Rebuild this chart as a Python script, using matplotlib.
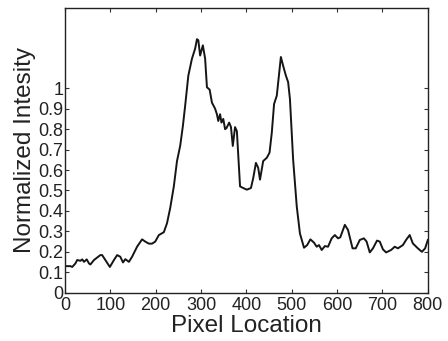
import matplotlib
matplotlib.use('Agg')
import matplotlib.pyplot as plt

plt.rcParams['font.family'] = ['Liberation Sans', 'DejaVu Sans']

# intensity profile
pixel = [0, 12, 16, 23, 27, 34, 38, 42, 48, 53, 56, 64, 78, 82, 89, 99, 108, 115,
         122, 128, 133, 141, 148, 159, 170, 177, 185, 192, 199, 207, 218, 225, 232,
         240, 247, 254, 260, 265, 272, 280, 287, 291, 294, 298, 304, 309, 313, 319,
         324, 331, 335, 338, 342, 345, 349, 353, 356, 362, 366, 370, 375, 379, 386,
         393, 401, 410, 415, 421, 426, 430, 437, 445, 451, 456, 461, 467, 476, 481,
         487, 492, 496, 503, 511, 518, 527, 534, 541, 549, 555, 560, 566, 573, 580,
         588, 595, 602, 607, 617, 624, 634, 641, 650, 659, 665, 672, 679, 688, 694,
         701, 708, 719, 727, 734, 745, 752, 760, 767, 778, 787, 794, 800]
intensity = [0.13, 0.13, 0.126, 0.143, 0.16, 0.156, 0.163, 0.151, 0.163, 0.143, 0.138,
             0.16, 0.184, 0.184, 0.16, 0.126, 0.16, 0.184, 0.176, 0.148, 0.164, 0.151,
             0.176, 0.225, 0.261, 0.25, 0.24, 0.24, 0.25, 0.282, 0.296, 0.34, 0.414,
             0.52, 0.644, 0.718, 0.816, 0.915, 1.062, 1.145, 1.194, 1.24, 1.235, 1.16,
             1.21, 1.145, 1.005, 0.993, 0.93, 0.90, 0.873, 0.84, 0.873, 0.832, 0.85,
             0.80, 0.805, 0.832, 0.81, 0.718, 0.81, 0.79, 0.52, 0.512, 0.504, 0.512,
             0.56, 0.635, 0.611, 0.553, 0.644, 0.66, 0.685, 0.783, 0.923, 0.964, 1.153,
             1.11, 1.062, 1.03, 0.947, 0.652, 0.422, 0.29, 0.22, 0.233, 0.261, 0.245,
             0.225, 0.233, 0.209, 0.228, 0.225, 0.266, 0.282, 0.266, 0.271, 0.332,
             0.307, 0.217, 0.217, 0.258, 0.266, 0.25, 0.197, 0.217, 0.255, 0.25, 0.212,
             0.197, 0.209, 0.225, 0.217, 0.233, 0.258, 0.282, 0.241, 0.217, 0.2, 0.217,
             0.258]

xticks = [0, 100, 200, 300, 400, 500, 600, 700, 800]
yticks = [0, 0.1, 0.2, 0.3, 0.4, 0.5, 0.6, 0.7, 0.8, 0.9, 1]
ytick_labels = ['0', '0.1', '0.2', '0.3', '0.4', '0.5', '0.6', '0.7', '0.8', '0.9', '1']

fig = plt.figure(figsize=(4.48, 3.41), dpi=100)
ax = fig.add_axes([0.145, 0.1416, 0.81, 0.8364])

ax.plot(pixel, intensity, color='#151515', lw=1.4)

ax.set_xlim(0, 800)
ax.set_ylim(0, 1.395)
ax.set_xticks(xticks)
ax.set_yticks(yticks)
ax.set_yticklabels(ytick_labels)
ax.tick_params(direction='in', length=3, width=0.8, top=True, right=True,
               labelsize=13, colors='#333333', labelcolor='#222222')
ax.tick_params(axis='x', pad=3)
ax.tick_params(axis='y', pad=1)
for s in ax.spines.values():
    s.set_linewidth(1.0)
    s.set_color('#222222')

ax.set_xlabel('Pixel Location', fontsize=17.5, color='#222222', labelpad=0.5)
ax.set_ylabel('Normalized Intesity', fontsize=17.5, color='#222222', labelpad=2)

fig.savefig('out.png', dpi=100)
